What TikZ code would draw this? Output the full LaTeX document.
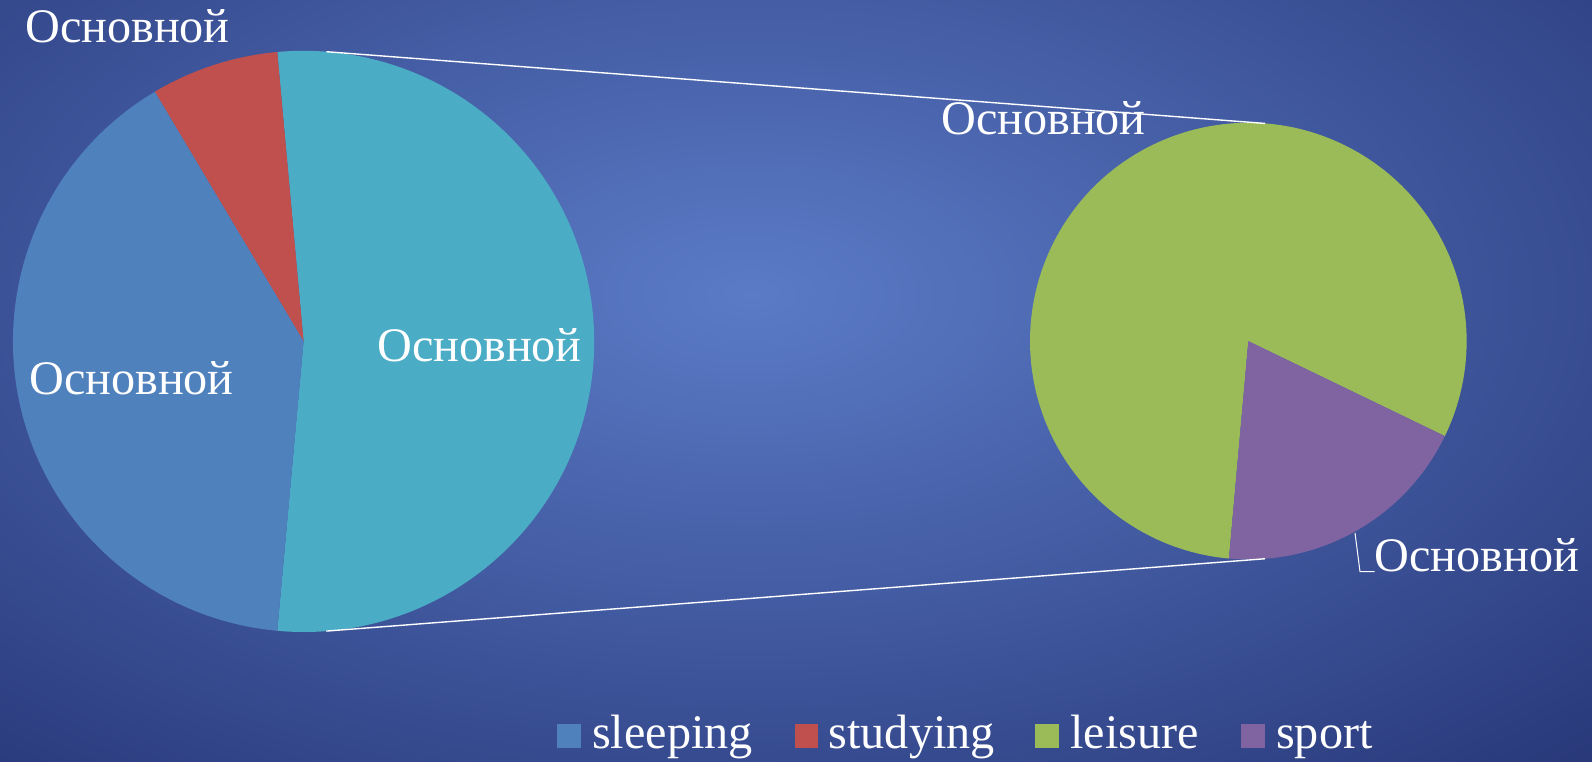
\documentclass[tikz,border=0pt]{standalone}
\usepackage{fontspec}
\setmainfont{Liberation Serif}
\usetikzlibrary{calc}
\definecolor{bgin}{HTML}{5B7BC7}
\definecolor{bgout}{HTML}{283879}
\definecolor{cblue}{HTML}{4F81BD}
\definecolor{cred}{HTML}{C0504D}
\definecolor{ccyan}{HTML}{4BACC6}
\definecolor{cgreen}{HTML}{9BBB59}
\definecolor{cpurple}{HTML}{8064A2}
\pgfdeclareradialshading{bgshade}{\pgfpoint{0bp}{0bp}}{color(0bp)=(bgin); color(34bp)=(bgout); color(50bp)=(bgout)}
\tikzset{
  lbl/.style={text=white, inner sep=0pt, anchor=base west, font=\fontsize{48.2}{57}\selectfont},
  legsq/.style={minimum width=23.5pt, minimum height=23.5pt, inner sep=0pt, draw=none},
  conn/.style={draw=white, line width=1.4pt},
}
\begin{document}
\begin{tikzpicture}[x=1pt,y=1pt]
\useasboundingbox (0,0) rectangle (1592,762);
\begin{scope}
\clip (0,0) rectangle (1592,762);
\shade[shading=bgshade] (-149,-12) rectangle (1651,948);
\end{scope}
% centers
\coordinate (L) at (303.6,420.6);
\coordinate (R) at (1248.3,420.9);
% left pie
\fill[ccyan] (L) -- ++(-95.2:290.6) arc[start angle=-95.2, end angle=95.2, radius=290.6] -- cycle;
\fill[cred] (L) -- ++(95.2:290.6) arc[start angle=95.2, end angle=120.8, radius=290.6] -- cycle;
\fill[cblue] (L) -- ++(120.8:290.6) arc[start angle=120.8, end angle=264.8, radius=290.6] -- cycle;
% right pie
\fill[cgreen] (R) -- ++(-25.8:218.3) arc[start angle=-25.8, end angle=264.9, radius=218.3] -- cycle;
\fill[cpurple] (R) -- ++(-95.1:218.3) arc[start angle=-95.1, end angle=-25.8, radius=218.3] -- cycle;
% connectors
\coordinate (Lt) at ($(L)+(85.5:290.6)$);
\coordinate (Lb) at ($(L)+(-85.5:290.6)$);
\coordinate (Rt) at ($(R)+(85.6:218.3)$);
\coordinate (Rb) at ($(R)+(-85.6:218.3)$);
\draw[conn] (Lt) -- (Rt);
\draw[conn] (Lb) -- (Rb);
% labels
\node[lbl] (l1) at (25,719.5) {Основной};
\node[lbl] (l2) at (29,367) {Основной};
\node[lbl] (l3) at (377,400.5) {Основной};
\node[lbl] (l4) at (941,627) {Основной};
\node[lbl] (l5) at (1374.5,190.3) {Основной};
\coordinate (lead) at (1355,229);
\draw[white, line width=1pt] (lead) -- (1360,190.3) -- (l5.base west);
% legend
\node[legsq, fill=cblue] (k1) at (569,26) {};
\node[lbl] (t1) at (592,13) {sleeping};
\node[legsq, fill=cred] (k2) at (806.6,26) {};
\node[lbl] (t2) at (828.5,13) {studying};
\node[legsq, fill=cgreen] (k3) at (1046.9,26) {};
\node[lbl] (t3) at (1070,13) {leisure};
\node[legsq, fill=cpurple] (k4) at (1252.9,26) {};
\node[lbl] (t4) at (1276,13) {sport};
\end{tikzpicture}
\end{document}
